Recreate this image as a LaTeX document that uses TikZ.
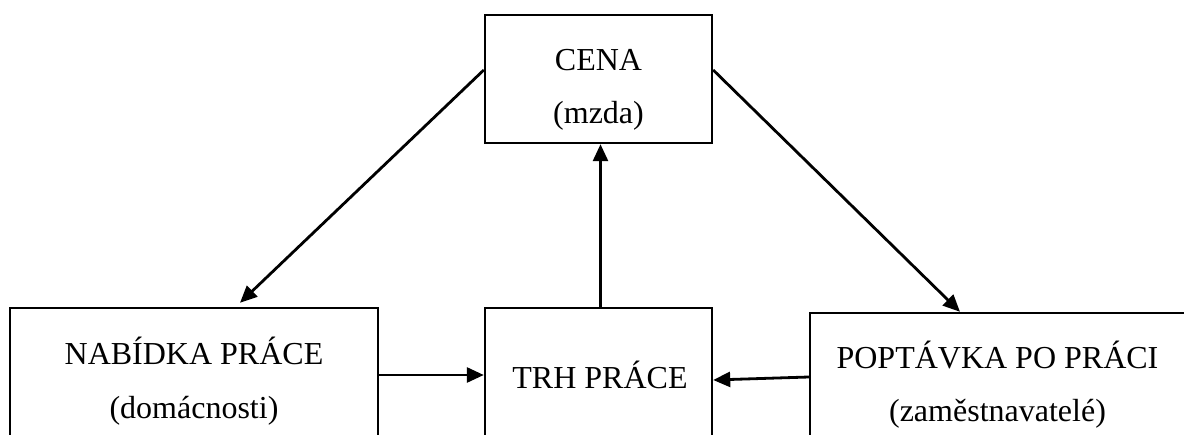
\documentclass[tikz,border=0pt]{standalone}
\usepackage{fontspec}
\setmainfont{Liberation Serif}
\usetikzlibrary{arrows.meta}
\tikzset{
  box/.style={draw=black, line width=2.4pt, fill=none, inner sep=0pt},
  lbl/.style={anchor=base, inner sep=0pt, font=\fontsize{32}{38}\selectfont},
  arr/.style={draw=black, line width=2.8pt, -{Triangle[length=17pt,width=15pt]}}
}
\begin{document}
\begin{tikzpicture}[x=1pt,y=-1pt]
\useasboundingbox (0,0) rectangle (1184,434);
\clip (0,0) rectangle (1184,434);
% boxes
\node[box, minimum width=227pt, minimum height=128pt] (cena) at (598.5,79) {};
\node[box, minimum width=368pt, minimum height=170pt] (nab) at (194,393) {};
\node[box, minimum width=227pt, minimum height=170pt] (trh) at (598.5,393) {};
\node[box, minimum width=378pt, minimum height=170pt] (pop) at (999,398) {};
% texts
\node[lbl] (t1) at (598.5,70) {CENA};
\node[lbl] (t2) at (598.5,123) {(mzda)};
\node[lbl] (t3) at (194,364) {NABÍDKA PRÁCE};
\node[lbl] (t4) at (194,418) {(domácnosti)};
\node[lbl] (t5) at (600,388) {TRH PRÁCE};
\node[lbl] (t6) at (997.5,368) {POPTÁVKA PO PRÁCI};
\node[lbl] (t7) at (997.5,421) {(zaměstnavatelé)};
% connectors
\coordinate (ya) at (0,375);
\coordinate (yb) at (0,377);
\coordinate (yc) at (0,380);
\draw[arr] ([yshift=9pt]cena.west) -- ([xshift=46pt,yshift=4pt]nab.north);
\draw[arr] ([yshift=9pt]cena.east) -- ([xshift=-39pt]pop.north);
\draw[arr] ([xshift=2pt]trh.north) -- ([xshift=2pt]cena.south);
\draw[arr] (nab.east |- ya) -- (trh.west |- ya);
\draw[arr] (pop.west |- yb) -- (trh.east |- yc);
\end{tikzpicture}
\end{document}
